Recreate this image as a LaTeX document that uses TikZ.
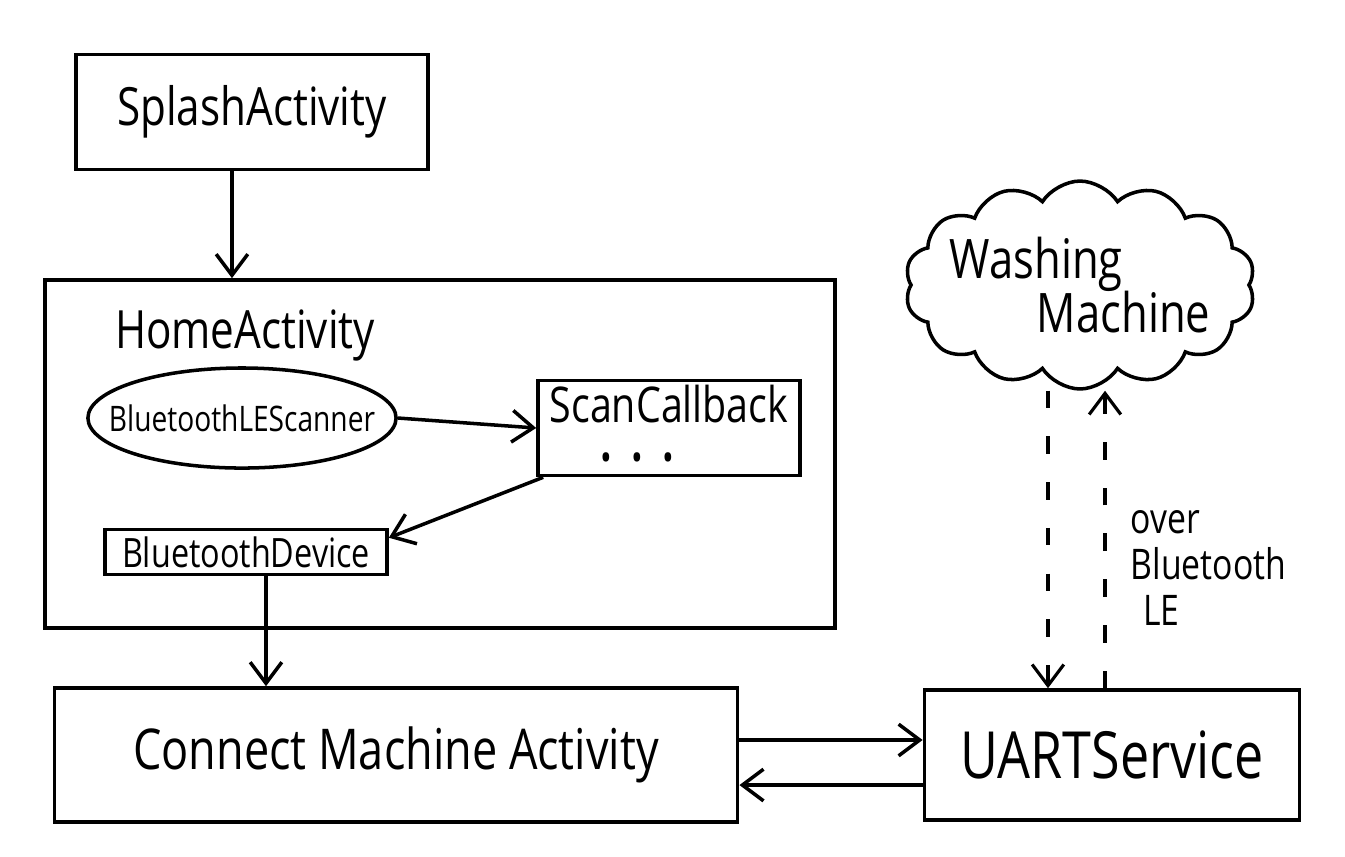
\documentclass[tikz,border=0pt]{standalone}
\usepackage{fontspec}
\newfontfamily\hand[FakeStretch=0.8]{Open Sans}
\usetikzlibrary{arrows.meta,shapes.geometric,shapes.symbols,calc}
\begin{document}
\begin{tikzpicture}[x=0.01cm,y=-0.01cm,
  ink/.style={line width=1pt},
  boxed/.style={ink,draw,rectangle,inner sep=0pt},
  arr/.style={ink,-{Straight Barb[length=6pt,width=9pt]}},
  dasharr/.style={line width=0.9pt,dash pattern=on 5pt off 8pt,-{Straight Barb[length=6pt,width=9pt]}},
  txt/.style={font=\hand\fontsize{#1}{#1}\selectfont}
]
\useasboundingbox (0,0) rectangle (1345,856);
\fill[white] (0,0) rectangle (1345,856);

\node[boxed,minimum width=3.52cm,minimum height=1.15cm,txt=15pt] (splash) at (252,112) {SplashActivity};
\node[boxed,minimum width=7.90cm,minimum height=3.48cm] (home) at (440,454) {};
\node[txt=15pt] (homelbl) at (245,335) {HomeActivity};
\node[ink,draw,ellipse,minimum width=3.08cm,minimum height=1.0cm,inner xsep=-22pt,inner ysep=0pt,txt=10pt] (scanner) at (242,418) {BluetoothLEScanner};
\node[boxed,minimum width=2.62cm,minimum height=0.95cm,align=center,txt=14pt] (scan) at (669,428) {ScanCallback\\[0pt]\hspace*{-1.3em}{\fontsize{11pt}{11pt}\selectfont\textbullet\hspace{0.5em}\textbullet\hspace{0.5em}\textbullet}};
\node[boxed,minimum width=2.82cm,minimum height=0.45cm,txt=11.5pt] (device) at (246,552) {BluetoothDevice};
\node[boxed,minimum width=6.83cm,minimum height=1.34cm,txt=16pt] (cma) at (396,755) {Connect Machine Activity};
\node[boxed,minimum width=3.75cm,minimum height=1.30cm,txt=18.5pt] (uart) at (1112,755) {UARTService};
\node[ink,draw,cloud,cloud puffs=14,cloud puff arc=115,aspect=1.7,minimum width=3.5cm,minimum height=2.0cm,inner xsep=-7pt,inner ysep=-3pt,align=left,txt=15.5pt] (cloud) at (1080,285) {Washing\\\hspace{1.6em}Machine};
\node[anchor=north west,inner sep=0pt,align=left,font=\hand\fontsize{12pt}{13pt}\selectfont] (over) at (1130,510) {over\\Bluetooth\\\hspace{0.3em}LE};

\draw[arr] ([xshift=-0.2cm]splash.south) -- ([xshift=-0.2cm]splash.south |- home.north);
\draw[arr] (scanner.east) -- (scan.west);
\draw[arr] ([xshift=0.07cm]scan.south west) -- ([yshift=-0.1cm]device.north east);
\draw[arr] ([xshift=0.2cm]device.south) -- ([xshift=0.2cm]device.south |- cma.north);
\draw[arr] ([yshift=0.15cm]cma.east) -- ([yshift=0.15cm]cma.east -| uart.west);
\draw[arr] ([yshift=-0.3cm]uart.west) -- ([yshift=-0.3cm]uart.west -| cma.east);
\draw[dasharr] ([xshift=-0.32cm]cloud.south) -- ([xshift=-0.32cm]cloud.south |- uart.north);
\draw[dasharr] ([xshift=-0.07cm]uart.north) -- ([xshift=-0.07cm]uart.north |- cloud.south);
\end{tikzpicture}
\end{document}
